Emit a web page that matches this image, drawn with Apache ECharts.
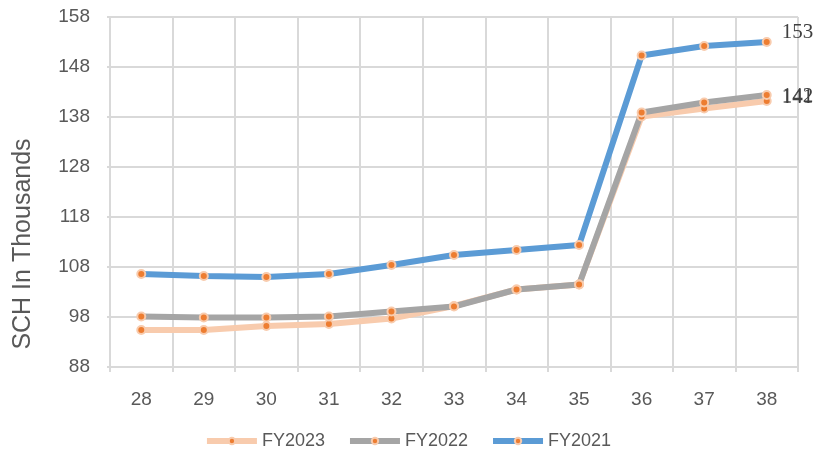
<!DOCTYPE html>
<html>
<head>
<meta charset="utf-8">
<script src="https://cdn.jsdelivr.net/npm/echarts@6/dist/echarts.min.js"></script>
<style>
  html, body { margin: 0; padding: 0; background: #fff; }
  #chart { width: 815px; height: 457px; }
</style>
</head>
<body>
<div id="chart"></div>
<script>
const categories = ['28', '29', '30', '31', '32', '33', '34', '35', '36', '37', '38']
const fy2023 = [95.4, 95.4, 96.2, 96.6, 97.7, 100.2, 103.5, 104.5, 138.1, 139.7, 141.2]
const fy2022 = [98.1, 97.9, 97.9, 98.1, 99.1, 100.1, 103.5, 104.5, 138.9, 140.9, 142.4]
const fy2021 = [106.6, 106.2, 106.0, 106.6, 108.4, 110.4, 111.4, 112.4, 150.3, 152.2, 153.0]
const yTicks = [88, 98, 108, 118, 128, 138, 148, 158]

const textColor = '#595959'
const gridColor = '#d9d9d9'
const font = 'Liberation Sans'

function makeSeries(name, data, color, labelDy) {
  return {
    name,
    type: 'line',
    data,
    symbol: 'circle',
    symbolSize: 8,
    lineStyle: { color, width: 6 },
    itemStyle: { color: '#ED7D31', borderColor: '#F8CBAD', borderWidth: 2 },
    label: {
      show: true,
      position: 'right',
      distance: 10,
      offset: [0, labelDy],
      color: '#404040',
      fontFamily: 'Liberation Serif',
      fontSize: 21,
      formatter: (p) => p.dataIndex === data.length - 1 ? String(Math.round(p.value)) : '',
    },
    emphasis: { disabled: true },
    animation: false,
  }
}

const chart = echarts.init(document.getElementById('chart'))
chart.setOption({
  textStyle: { fontFamily: font },
  grid: { left: 110, right: 17, top: 17, bottom: 90 },
  legend: {
    bottom: 2,
    left: 'center',
    itemWidth: 50,
    itemHeight: 8,
    itemGap: 22,
    textStyle: { color: textColor, fontSize: 18, fontFamily: font },
    data: ['FY2023', 'FY2022', 'FY2021'].map((name) => ({ name, lineStyle: { width: 6 } })),
  },
  graphic: [{
    type: 'text',
    x: 23,
    y: 244,
    rotation: Math.PI / 2,
    style: {
      text: 'SCH In Thousands',
      fill: textColor,
      font: '25px "Liberation Sans"',
      textAlign: 'center',
      textVerticalAlign: 'middle',
    },
  }],
  xAxis: {
    type: 'category',
    data: categories,
    boundaryGap: true,
    axisLine: { lineStyle: { color: gridColor, width: 2 } },
    axisTick: { show: true, length: 5, lineStyle: { color: gridColor, width: 2 } },
    axisLabel: { color: textColor, fontSize: 19, margin: 23 },
    splitLine: { show: true, lineStyle: { color: gridColor, width: 2 } },
  },
  yAxis: {
    type: 'value',
    min: yTicks[0],
    max: yTicks[yTicks.length - 1],
    interval: 10,
    axisLine: { show: true, lineStyle: { color: gridColor, width: 2 } },
    axisTick: { show: true, length: 3, lineStyle: { color: gridColor, width: 2 } },
    axisLabel: { color: textColor, fontSize: 19, margin: 20 },
    splitLine: { lineStyle: { color: gridColor, width: 2 } },
  },
  series: [
    makeSeries('FY2023', fy2023, '#F8CBAD', -4),
    makeSeries('FY2022', fy2022, '#A5A5A5', 1),
    makeSeries('FY2021', fy2021, '#5B9BD5', -10),
  ],
})
</script>
</body>
</html>
